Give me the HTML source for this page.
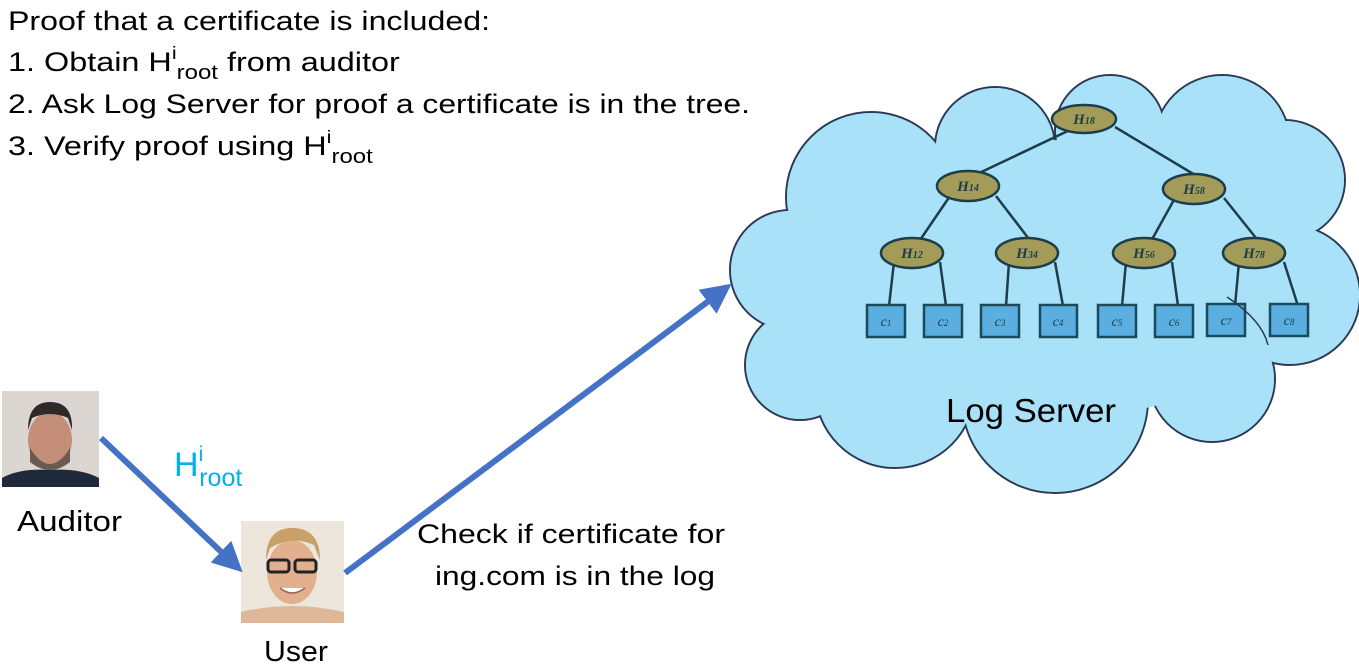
<!DOCTYPE html>
<html><head><meta charset="utf-8"><style>html,body{margin:0;padding:0;background:#fff}svg{display:block}</style></head>
<body>
<svg width="1359" height="669" viewBox="0 0 1359 669" xmlns="http://www.w3.org/2000/svg" font-family="Liberation Sans, sans-serif">
<defs>
<marker id="ah" markerWidth="5" markerHeight="5" refX="3" refY="2.5" orient="auto" markerUnits="strokeWidth"><path d="M0,0 L5,2.5 L0,5 z" fill="#4472c4"/></marker>
</defs>
<g font-size="27" fill="#000">
<text x="8" y="30" textLength="482" lengthAdjust="spacingAndGlyphs">Proof that a certificate is included:</text>
<g transform="translate(8,0) scale(1.2,1) translate(-8,0)">
<text x="8" y="71">1.  Obtain H<tspan font-size="18" dy="-12">i</tspan><tspan font-size="20" dy="20">root</tspan><tspan dy="-8"> from auditor</tspan></text>
<text x="8" y="155">3.  Verify proof using H<tspan font-size="18" dy="-12">i</tspan><tspan font-size="20" dy="20">root</tspan></text>
</g>
<text x="8" y="113" textLength="742" lengthAdjust="spacingAndGlyphs">2.  Ask Log Server for proof a certificate is in the tree.</text>
</g>
<!-- cloud -->
<g stroke="#2b3a55" stroke-width="2" fill="#a8e1f8">
<circle cx="871" cy="197" r="85"/><circle cx="995" cy="147" r="60"/><circle cx="1110" cy="130" r="55"/>
<circle cx="1222" cy="143" r="68"/><circle cx="1285" cy="180" r="60"/><circle cx="1290" cy="295" r="70"/>
<circle cx="1212" cy="379" r="63"/><circle cx="1055" cy="400" r="93"/><circle cx="895" cy="388" r="80"/>
<circle cx="800" cy="365" r="55"/><circle cx="790" cy="270" r="60"/>
</g>
<g fill="#a8e1f8">
<circle cx="871" cy="197" r="84"/><circle cx="995" cy="147" r="59"/><circle cx="1110" cy="130" r="54"/>
<circle cx="1222" cy="143" r="67"/><circle cx="1285" cy="180" r="59"/><circle cx="1290" cy="295" r="69"/>
<circle cx="1212" cy="379" r="62"/><circle cx="1055" cy="400" r="92"/><circle cx="895" cy="388" r="79"/>
<circle cx="800" cy="365" r="54"/><circle cx="790" cy="270" r="59"/>
<ellipse cx="1045" cy="280" rx="250" ry="140"/>
</g>
<!-- tree edges -->
<g stroke="#1d3d4a" stroke-width="2.5">
<line x1="1072" y1="129" x2="975" y2="175"/><line x1="1115" y1="127" x2="1200" y2="178"/>
<line x1="950" y1="196" x2="918" y2="243"/><line x1="996" y1="196" x2="1032" y2="243"/>
<line x1="1175" y1="198" x2="1150" y2="243"/><line x1="1224" y1="198" x2="1260" y2="243"/>
<line x1="894" y1="262" x2="889" y2="306"/><line x1="940" y1="262" x2="946" y2="306"/>
<line x1="1009" y1="262" x2="1006" y2="306"/><line x1="1055" y1="262" x2="1063" y2="306"/>
<line x1="1126" y1="262" x2="1122" y2="306"/><line x1="1172" y1="262" x2="1178" y2="306"/>
<line x1="1239" y1="262" x2="1235" y2="306"/><line x1="1284" y1="262" x2="1298" y2="306"/>
</g>
<g fill="#a39c58" stroke="#1d3d4a" stroke-width="2.5">
<ellipse cx="1084" cy="119" rx="32" ry="14"/><ellipse cx="968" cy="186" rx="31" ry="15"/><ellipse cx="1194" cy="189" rx="31" ry="15"/>
<ellipse cx="912" cy="253" rx="31" ry="15"/><ellipse cx="1027" cy="253" rx="31" ry="15"/><ellipse cx="1144" cy="253" rx="31" ry="15"/><ellipse cx="1254" cy="253" rx="31" ry="15"/>
</g>
<g font-family="Liberation Serif, serif" font-style="italic" font-weight="bold" font-size="15" fill="#1d3d4a" text-anchor="middle">
<text x="1084" y="124">H<tspan font-size="10">18</tspan></text>
<text x="968" y="191">H<tspan font-size="10">14</tspan></text>
<text x="1194" y="194">H<tspan font-size="10">58</tspan></text>
<text x="912" y="258">H<tspan font-size="10">12</tspan></text>
<text x="1027" y="258">H<tspan font-size="10">34</tspan></text>
<text x="1144" y="258">H<tspan font-size="10">56</tspan></text>
<text x="1254" y="258">H<tspan font-size="10">78</tspan></text>
</g>
<g fill="#5aaee0" stroke="#1d4a5a" stroke-width="2.5">
<rect x="867" y="305" width="38" height="32"/><rect x="924" y="305" width="38" height="32"/>
<rect x="981" y="305" width="38" height="32"/><rect x="1040" y="305" width="37" height="32"/>
<rect x="1098" y="305" width="38" height="32"/><rect x="1155" y="305" width="38" height="32"/>
<rect x="1207" y="304" width="38" height="32"/><rect x="1270" y="304" width="38" height="32"/>
</g>
<path d="M1227,297 Q1262,320 1268,345" fill="none" stroke="#2b3a55" stroke-width="1.5"/>
<g font-family="Liberation Serif, serif" font-style="italic" font-size="14" fill="#1d3d4a" text-anchor="middle">
<text x="886" y="326">c<tspan font-size="9">1</tspan></text><text x="943" y="326">c<tspan font-size="9">2</tspan></text>
<text x="1000" y="326">c<tspan font-size="9">3</tspan></text><text x="1058" y="326">c<tspan font-size="9">4</tspan></text>
<text x="1117" y="326">c<tspan font-size="9">5</tspan></text><text x="1174" y="326">c<tspan font-size="9">6</tspan></text>
<text x="1226" y="325">c<tspan font-size="9">7</tspan></text><text x="1289" y="325">c<tspan font-size="9">8</tspan></text>
</g>
<text x="946" y="422" font-size="33" textLength="170" lengthAdjust="spacingAndGlyphs">Log Server</text>
<!-- photos -->
<rect x="2" y="391" width="97" height="96" fill="#dcd6d2"/>
<ellipse cx="50" cy="440" rx="22" ry="28" fill="#c58e78"/>
<path d="M28,430 Q28,402 50,402 Q73,402 72,430 L68,418 Q50,410 32,418 z" fill="#2e2a28"/>
<path d="M30,448 Q50,480 70,448 L70,462 Q50,478 30,462 z" fill="#6a5a50"/>
<path d="M2,487 L2,478 Q20,468 50,470 Q80,468 99,478 L99,487 z" fill="#1e2a3c"/>
<rect x="241" y="521" width="103" height="102" fill="#ece6dc"/>
<ellipse cx="292" cy="572" rx="25" ry="32" fill="#e2b08e"/>
<path d="M266,560 Q266,528 292,528 Q320,528 320,560 L314,545 Q292,535 270,548 z" fill="#c8a068"/>
<rect x="268" y="560" width="21" height="12" rx="3" fill="none" stroke="#222" stroke-width="3"/>
<rect x="295" y="560" width="21" height="12" rx="3" fill="none" stroke="#222" stroke-width="3"/>
<path d="M280,588 Q292,598 305,588" fill="#fff" stroke="#a06050" stroke-width="1.5"/>
<path d="M241,623 L241,612 Q292,600 344,612 L344,623 z" fill="#e0b898"/>
<!-- arrows -->
<line x1="101" y1="438" x2="234" y2="564" stroke="#4472c4" stroke-width="6" marker-end="url(#ah)"/>
<line x1="345" y1="573" x2="722" y2="291" stroke="#4472c4" stroke-width="6" marker-end="url(#ah)"/>
<g font-size="29" fill="#000">
<text x="17" y="531" textLength="105" lengthAdjust="spacingAndGlyphs">Auditor</text>
<text x="264" y="661" textLength="64" lengthAdjust="spacingAndGlyphs">User</text>
</g>
<g font-size="27" fill="#000">
<text x="417" y="543" textLength="308" lengthAdjust="spacingAndGlyphs">Check if certificate for</text>
<text x="435" y="585" textLength="280" lengthAdjust="spacingAndGlyphs">ing.com is in the log</text>
</g>
<text x="174" y="476" font-size="34" fill="#00b0f0">H<tspan font-size="21" dy="-15">i</tspan><tspan font-size="25" dx="-4" dy="25">root</tspan></text>
</svg>
</body></html>
